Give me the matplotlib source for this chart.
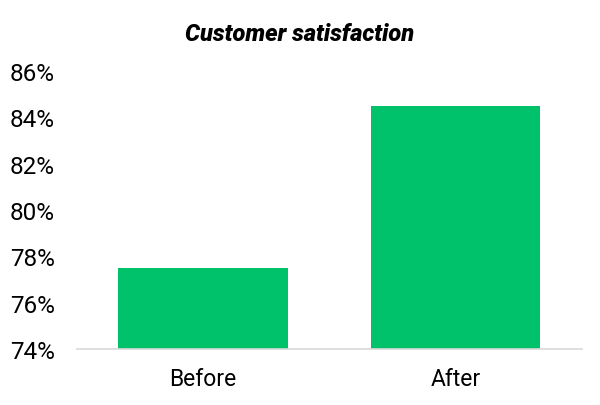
import matplotlib.pyplot as plt
from matplotlib.ticker import FuncFormatter

categories = ['Before', 'After']
satisfaction = [77.5, 84.5]
y_ticks = [74, 76, 78, 80, 82, 84, 86]

plt.rcParams['font.family'] = ['Roboto', 'DejaVu Sans']

fig = plt.figure(figsize=(6, 4.06), dpi=100)
ax = fig.add_axes([0.128, 0.138, 0.842, 0.685])

ax.bar(range(len(categories)), satisfaction, width=0.67, color='#00c26b', zorder=2)

ax.set_ylim(74, 86)
ax.set_xlim(-0.5, 1.5)
ax.set_yticks(y_ticks)
ax.yaxis.set_major_formatter(FuncFormatter(lambda v, p: '%d%%' % v))
ax.set_xticks(range(len(categories)))
ax.set_xticklabels(categories)
ax.tick_params(axis='y', length=0, labelsize=17.5, colors='black', pad=16)
ax.tick_params(axis='x', length=0, labelsize=16.5, colors='black', pad=13)

for s in ['top', 'right', 'left']:
    ax.spines[s].set_visible(False)
ax.spines['bottom'].set_color('#d9d9d9')
ax.spines['bottom'].set_linewidth(1.2)

fig.text(0.5, 0.915, 'Customer satisfaction', ha='center', va='center',
         fontsize=17, fontweight='heavy', fontstyle='italic')

fig.savefig('out.png', dpi=100)
